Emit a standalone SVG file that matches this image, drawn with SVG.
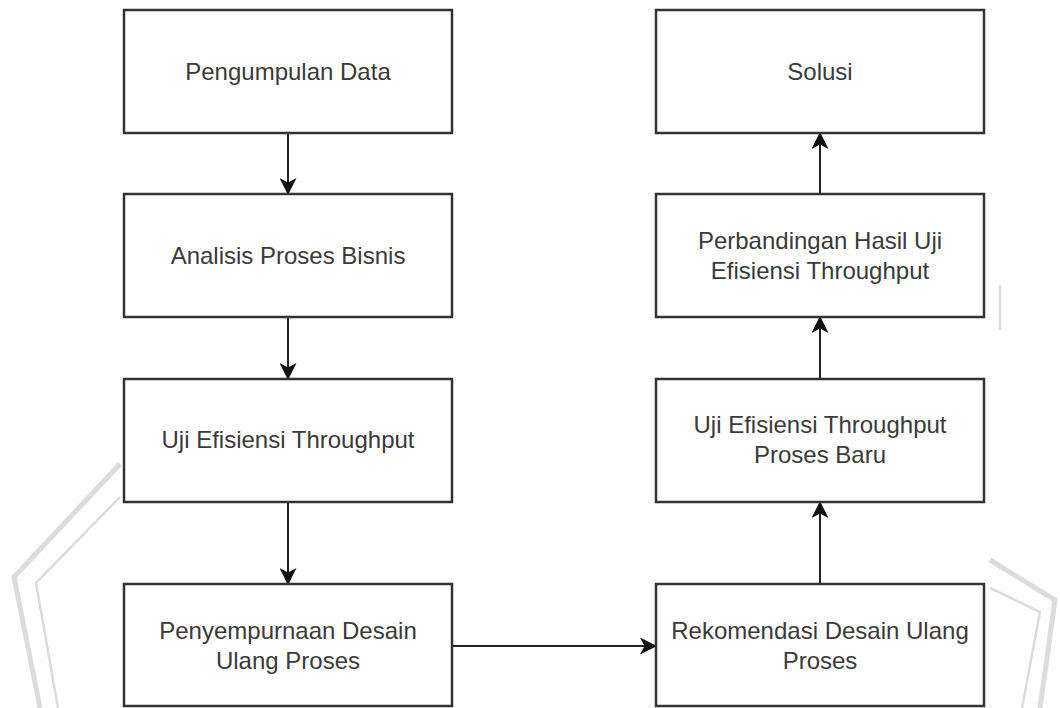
<svg xmlns="http://www.w3.org/2000/svg" width="1060" height="708" viewBox="0 0 1060 708">
  <defs>
    <marker id="arrow" viewBox="0 0 17 17" markerWidth="17" markerHeight="17" refX="16" refY="8.5" orient="auto" markerUnits="userSpaceOnUse">
      <path d="M0,0 L17,8.5 L0,17 L4.5,8.5 Z" fill="#111"/>
    </marker>
    <style>
      .box { fill: #ffffff; stroke: #333333; stroke-width: 2.5; }
      .lbl { font-family: "Liberation Sans", Arial, sans-serif; font-size: 24px; fill: #3a3a3a; text-anchor: middle; }
      .edge { fill: none; stroke: #222222; stroke-width: 2; }
      .wm { fill: none; stroke: #dcdcdc; }
    </style>
  </defs>
  <rect width="1060" height="708" fill="#ffffff"/>

  <g id="watermark">
    <polyline class="wm" stroke-width="5" points="120,464 14,577 40,708"/>
    <polyline class="wm" stroke-width="2.5" points="120,497 36,583 58,708"/>
    <polyline class="wm" stroke-width="5" points="990,560 1055,600 1040,708"/>
    <polyline class="wm" stroke-width="2.5" points="990,588 1040,612 1022,708"/>
    <line class="wm" stroke-width="2.5" x1="1000" y1="285" x2="1000" y2="330"/>
  </g>

  <g id="connectors">
    <line class="edge" x1="288" y1="133" x2="288" y2="194" marker-end="url(#arrow)"/>
    <line class="edge" x1="288" y1="317" x2="288" y2="379" marker-end="url(#arrow)"/>
    <line class="edge" x1="288" y1="502" x2="288" y2="584" marker-end="url(#arrow)"/>
    <line class="edge" x1="452" y1="646" x2="656" y2="646" marker-end="url(#arrow)"/>
    <line class="edge" x1="820" y1="584" x2="820" y2="502" marker-end="url(#arrow)"/>
    <line class="edge" x1="820" y1="379" x2="820" y2="317" marker-end="url(#arrow)"/>
    <line class="edge" x1="820" y1="194" x2="820" y2="133" marker-end="url(#arrow)"/>
  </g>

  <g id="pengumpulan-data">
    <rect class="box" x="124" y="10" width="328" height="123"/>
    <text class="lbl" x="288" y="80">Pengumpulan Data</text>
  </g>
  <g id="analisis-proses-bisnis">
    <rect class="box" x="124" y="194" width="328" height="123"/>
    <text class="lbl" x="288" y="264">Analisis Proses Bisnis</text>
  </g>
  <g id="uji-efisiensi-throughput">
    <rect class="box" x="124" y="379" width="328" height="123"/>
    <text class="lbl" x="288" y="448">Uji Efisiensi Throughput</text>
  </g>
  <g id="penyempurnaan-desain">
    <rect class="box" x="124" y="584" width="328" height="122"/>
    <text class="lbl" x="288" y="639">Penyempurnaan Desain</text>
    <text class="lbl" x="288" y="669">Ulang Proses</text>
  </g>
  <g id="rekomendasi-desain">
    <rect class="box" x="656" y="584" width="328" height="122"/>
    <text class="lbl" x="820" y="639">Rekomendasi Desain Ulang</text>
    <text class="lbl" x="820" y="669">Proses</text>
  </g>
  <g id="uji-proses-baru">
    <rect class="box" x="656" y="379" width="328" height="123"/>
    <text class="lbl" x="820" y="433">Uji Efisiensi Throughput</text>
    <text class="lbl" x="820" y="463">Proses Baru</text>
  </g>
  <g id="perbandingan-hasil">
    <rect class="box" x="656" y="194" width="328" height="123"/>
    <text class="lbl" x="820" y="249">Perbandingan Hasil Uji</text>
    <text class="lbl" x="820" y="279">Efisiensi Throughput</text>
  </g>
  <g id="solusi">
    <rect class="box" x="656" y="10" width="328" height="123"/>
    <text class="lbl" x="820" y="80">Solusi</text>
  </g>
</svg>
